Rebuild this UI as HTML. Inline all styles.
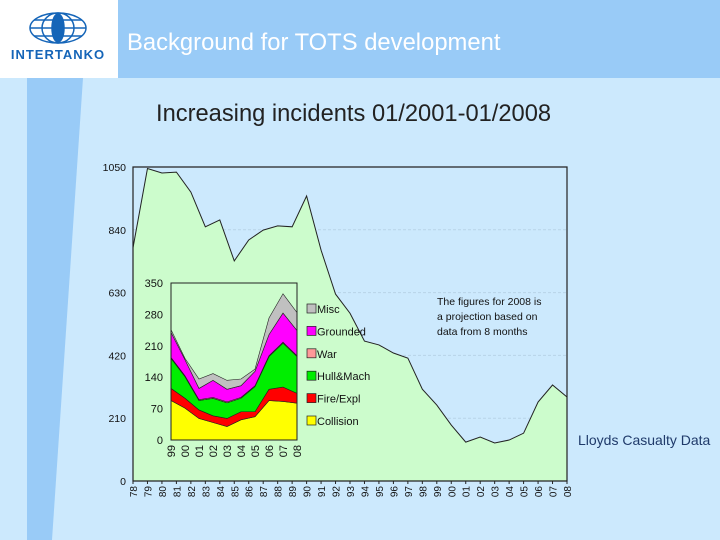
<!DOCTYPE html>
<html><head><meta charset="utf-8"><style>
body{margin:0;width:720px;height:540px;overflow:hidden;background:#cce9fd;font-family:"Liberation Sans",sans-serif;position:relative}
</style></head><body>
<svg width="720" height="540" viewBox="0 0 720 540" style="position:absolute;left:0;top:0">
<rect x="0" y="0" width="720" height="540" fill="#cce9fd"/>
<rect x="118" y="0" width="602" height="78" fill="#99cbf7"/>
<polygon points="27,78 83,78 52,540 27,540" fill="#99cbf7"/>
<rect x="0" y="0" width="118" height="78" fill="#ffffff"/>
<g fill="none" stroke="#1565b8" stroke-width="1.5">
<ellipse cx="58" cy="28" rx="28" ry="15"/><ellipse cx="58" cy="28" rx="16" ry="15"/><line x1="30" y1="28" x2="86" y2="28"/><line x1="34" y1="20" x2="82" y2="20"/><line x1="34" y1="36" x2="82" y2="36"/>
<ellipse cx="58" cy="28" rx="6" ry="14" fill="#1565b8"/>
</g>
<text x="58" y="59" text-anchor="middle" font-size="13" font-weight="bold" letter-spacing="1" fill="#1565b8">INTERTANKO</text>
<text x="127" y="50" font-size="23.8" fill="#ffffff">Background for TOTS development</text>
<text x="156" y="121" font-size="23.7" fill="#222">Increasing incidents 01/2001-01/2008</text>
<text x="578" y="445" font-size="14" fill="#1f3a6a">Lloyds Casualty Data</text>
<g id="main"></g>
<g id="inset"></g>
</svg>
<script>
const years=["78","79","80","81","82","83","84","85","86","87","88","89","90","91","92","93","94","95","96","97","98","99","00","01","02","03","04","05","06","07","08"];
const totals=[780,1045,1030,1033,966,850,873,736,806,839,853,850,953,772,625,561,468,455,428,411,307,254,187,130,147,127,137,160,264,321,281];
const yTicks=[0,210,420,630,840,1050];
const insetYears=["99","00","01","02","03","04","05","06","07","08"];
const collision=[88,71,48,39,30,45,52,88,86,82];
const fire=[27,22,19,15,18,18,11,25,32,22];
const hull=[67,48,21,39,35,30,56,73,98,82];
const war=[2,2,2,2,2,2,2,2,2,2];
const grounded=[56,36,25,38,28,26,32,47,65,56];
const misc=[6,3,21,15,20,15,5,37,43,40];
const insetTicks=[0,70,140,210,280,350];
const NS="http://www.w3.org/2000/svg";
function mk(tag,attrs,parent){const e=document.createElementNS(NS,tag);for(const k in attrs)e.setAttribute(k,attrs[k]);parent.appendChild(e);return e;}
const main=document.getElementById('main');
const L=133,R=567,T=167,B=481;
const mx=i=>L+i*(R-L)/(years.length-1);
const my=v=>B-v/1050*(B-T);
yTicks.forEach(t=>{
 if(t>0&&t<1050){const g=mk('line',{x1:L,x2:R,y1:my(t),y2:my(t),stroke:'#b8d4e8','stroke-dasharray':'3,2','stroke-width':1},main);
 }
 const tx=mk('text',{x:126,y:my(t)+4,'text-anchor':'end','font-size':10.5,fill:'#111'},main);tx.textContent=t;
 
});
let d='M'+mx(0)+','+B;totals.forEach((v,i)=>d+=' L'+mx(i)+','+my(v));d+=' L'+mx(totals.length-1)+','+B+' Z';
const area=mk('path',{d:d,fill:'#ccfccc',stroke:'none'},main);

let ld='';totals.forEach((v,i)=>ld+=(i?' L':'M')+mx(i)+','+my(v));
const ln=mk('path',{d:ld,fill:'none',stroke:'#222','stroke-width':1},main);

const fr=mk('path',{d:`M${L},${B} L${L},${T} L${R},${T} L${R},${B} Z`,fill:'none',stroke:'#222','stroke-width':1.2},main);

years.forEach((y,i)=>{
 const tk=mk('line',{x1:mx(i),x2:mx(i),y1:B,y2:B+3,stroke:'#222'},main);
 
 const t=mk('text',{x:0,y:0,'font-size':10,fill:'#111','text-anchor':'end',transform:`translate(${mx(i)+4},${B+5}) rotate(-90)`},main);t.textContent=y;
 
});
const note=mk('text',{x:437,y:305,'font-size':10.5,fill:'#111'},main);

["The figures for 2008 is","a projection based on","data from 8 months"].forEach((s,i)=>{const ts=mk('tspan',{x:437,dy:i?15:0},note);ts.textContent=s;});
const ins=document.getElementById('inset');
const IL=171,IR=297,IT=283,IB=440;
const ix=i=>IL+i*(IR-IL)/(insetYears.length-1);
const iy=v=>IB-v/350*(IB-IT);
const ibg=mk('rect',{x:IL,y:IT,width:IR-IL,height:IB-IT,fill:'#ccfccc'},ins);

const series=[["Collision",collision,'#ffff00'],["Fire/Expl",fire,'#ff0000'],["Hull&Mach",hull,'#00ee00'],["War",war,'#ff9999'],["Grounded",grounded,'#ff00ff'],["Misc",misc,'#c0c0c0']];
let base=insetYears.map(()=>0);
series.forEach(([name,vals,col])=>{
 const top=base.map((b,i)=>b+vals[i]);
 let p='';top.forEach((v,i)=>p+=(i?' L':'M')+ix(i)+','+iy(v));
 for(let i=base.length-1;i>=0;i--)p+=' L'+ix(i)+','+iy(base[i]);p+=' Z';
 const a=mk('path',{d:p,fill:col,stroke:'#222','stroke-width':0.6},ins);
 
 base=top;
});
const ifr=mk('rect',{x:IL,y:IT,width:IR-IL,height:IB-IT,fill:'none',stroke:'#222','stroke-width':1},ins);

insetTicks.forEach(t=>{const tx=mk('text',{x:163,y:iy(t)+4,'text-anchor':'end','font-size':11,fill:'#111'},ins);tx.textContent=t;
 });
insetYears.forEach((y,i)=>{const t=mk('text',{x:0,y:0,'font-size':11,fill:'#111','text-anchor':'end',transform:`translate(${ix(i)+4},${IB+5}) rotate(-90)`},ins);t.textContent=y;
 });
series.slice().reverse().forEach(([name,vals,col],k)=>{
 const yy=304+k*22.4;
 const s=mk('rect',{x:307,y:yy,width:9,height:9,fill:col,stroke:'#222','stroke-width':0.7},ins);
 
 const t=mk('text',{x:317,y:yy+9,'font-size':11,fill:'#111'},ins);t.textContent=name;
 
});
</script>
</body></html>
